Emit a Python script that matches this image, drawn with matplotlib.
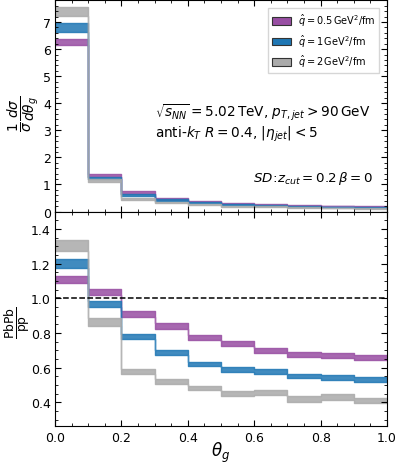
import numpy as np
import matplotlib
matplotlib.use("Agg")
import matplotlib.pyplot as plt
from matplotlib.ticker import MultipleLocator

# bin edges in theta_g
edges = [0.0, 0.1, 0.2, 0.3, 0.4, 0.5, 0.6, 0.7, 0.8, 0.9, 1.0]

# distribution (top panel): lower / upper edges of bands
dist_q05_lo = [6.16, 1.28, 0.66, 0.44, 0.34, 0.28, 0.25, 0.21, 0.19, 0.17]
dist_q05_hi = [6.38, 1.38, 0.74, 0.50, 0.39, 0.32, 0.28, 0.24, 0.21, 0.19]
dist_q1_lo = [6.65, 1.20, 0.57, 0.40, 0.31, 0.24, 0.21, 0.18, 0.16, 0.14]
dist_q1_hi = [6.96, 1.29, 0.64, 0.45, 0.35, 0.28, 0.24, 0.20, 0.18, 0.16]
dist_q2_lo = [7.24, 1.09, 0.42, 0.30, 0.24, 0.18, 0.16, 0.13, 0.12, 0.11]
dist_q2_hi = [7.55, 1.21, 0.51, 0.35, 0.28, 0.22, 0.19, 0.15, 0.14, 0.13]

# ratio PbPb/pp (bottom panel): lower / upper edges of bands
ratio_q05_lo = [1.09, 1.018, 0.89, 0.82, 0.76, 0.726, 0.686, 0.662, 0.657, 0.645]
ratio_q05_hi = [1.13, 1.052, 0.925, 0.859, 0.786, 0.755, 0.715, 0.690, 0.684, 0.674]
ratio_q1_lo = [1.172, 0.950, 0.767, 0.670, 0.609, 0.577, 0.562, 0.537, 0.531, 0.518]
ratio_q1_hi = [1.226, 0.983, 0.792, 0.699, 0.632, 0.603, 0.589, 0.562, 0.556, 0.545]
ratio_q2_lo = [1.275, 0.840, 0.564, 0.506, 0.473, 0.435, 0.442, 0.403, 0.415, 0.394]
ratio_q2_hi = [1.336, 0.887, 0.593, 0.535, 0.496, 0.464, 0.473, 0.438, 0.448, 0.423]

labels = [r"$\hat{q} = 0.5\,\mathrm{GeV}^2/\mathrm{fm}$",
          r"$\hat{q} = 1\,\mathrm{GeV}^2/\mathrm{fm}$",
          r"$\hat{q} = 2\,\mathrm{GeV}^2/\mathrm{fm}$"]
colors = ["#984ea3", "#1f77b4", "#aaaaaa"]

dist = [(dist_q05_lo, dist_q05_hi), (dist_q1_lo, dist_q1_hi), (dist_q2_lo, dist_q2_hi)]
ratio = [(ratio_q05_lo, ratio_q05_hi), (ratio_q1_lo, ratio_q1_hi), (ratio_q2_lo, ratio_q2_hi)]

plt.rcParams['font.family'] = ['DejaVu Sans']
plt.rcParams['mathtext.fontset'] = 'dejavusans'

fig = plt.figure(figsize=(3.97, 4.64), dpi=100)
ax1 = fig.add_axes([0.1385, 0.542, 0.8365, 0.455])
ax2 = fig.add_axes([0.1385, 0.0787, 0.8365, 0.4633], sharex=ax1)

def step(a):
    return list(a) + [a[-1]]

for (lo, hi), c, lab in zip(dist, colors, labels):
    ax1.fill_between(edges, step(lo), step(hi), step='post', facecolor=c,
                     edgecolor=c, alpha=0.85, lw=1.0, label=lab)
for (lo, hi), c in zip(ratio, colors):
    ax2.fill_between(edges, step(lo), step(hi), step='post', facecolor=c,
                     edgecolor=c, alpha=0.85, lw=1.0)

ax2.axhline(1.0, color='black', ls='--', lw=1.1)

ax1.set_xlim(0, 1)
ax1.set_ylim(0, 7.8)
ax2.set_ylim(0.26, 1.5)

for ax in (ax1, ax2):
    ax.tick_params(which='both', direction='in', top=True, right=True, labelsize=9)
    ax.tick_params(which='major', length=4, pad=3)
    ax.tick_params(which='minor', length=2)
    ax.xaxis.set_major_locator(MultipleLocator(0.2))
    ax.xaxis.set_minor_locator(MultipleLocator(0.05))
ax1.yaxis.set_major_locator(MultipleLocator(1))
ax1.yaxis.set_minor_locator(MultipleLocator(0.2))
ax2.yaxis.set_major_locator(MultipleLocator(0.2))
ax2.yaxis.set_minor_locator(MultipleLocator(0.05))
ax1.tick_params(labelbottom=False)

ax1.set_ylabel(r"$\frac{1}{\sigma}\frac{d\sigma}{d\theta_g}$", fontsize=14)
ax1.yaxis.set_label_coords(-0.039, 0.47)
ax2.set_ylabel(r"$\frac{\mathrm{PbPb}}{\mathrm{pp}}$", fontsize=12.8)
ax2.yaxis.set_label_coords(-0.07, 0.49)
ax2.set_xlabel(r"$\theta_g$", fontsize=12, labelpad=-2.5)

leg = ax1.legend(loc='upper right', fontsize=7, frameon=True, fancybox=False,
                 handlelength=2.0, handleheight=0.8, borderpad=0.4,
                 labelspacing=0.45, handletextpad=0.7, borderaxespad=0.8)
for h in leg.legend_handles:
    h.set_edgecolor('#333333')
    h.set_alpha(1)
    h.set_linewidth(0.8)

ax1.text(0.30, 0.455, r"$\sqrt{s_{NN}} = 5.02\,\mathrm{TeV}$, $p_{T,jet} > 90\,\mathrm{GeV}$",
         transform=ax1.transAxes, fontsize=9.8)
ax1.text(0.30, 0.355, r"anti-$k_T$ $R = 0.4$, $|\eta_{jet}| < 5$",
         transform=ax1.transAxes, fontsize=9.8)
ax1.text(0.958, 0.145, r"$SD\!:\!z_{cut} = 0.2\,\beta = 0$",
         transform=ax1.transAxes, fontsize=9.6, ha='right')

fig.savefig("out.png", dpi=100)
